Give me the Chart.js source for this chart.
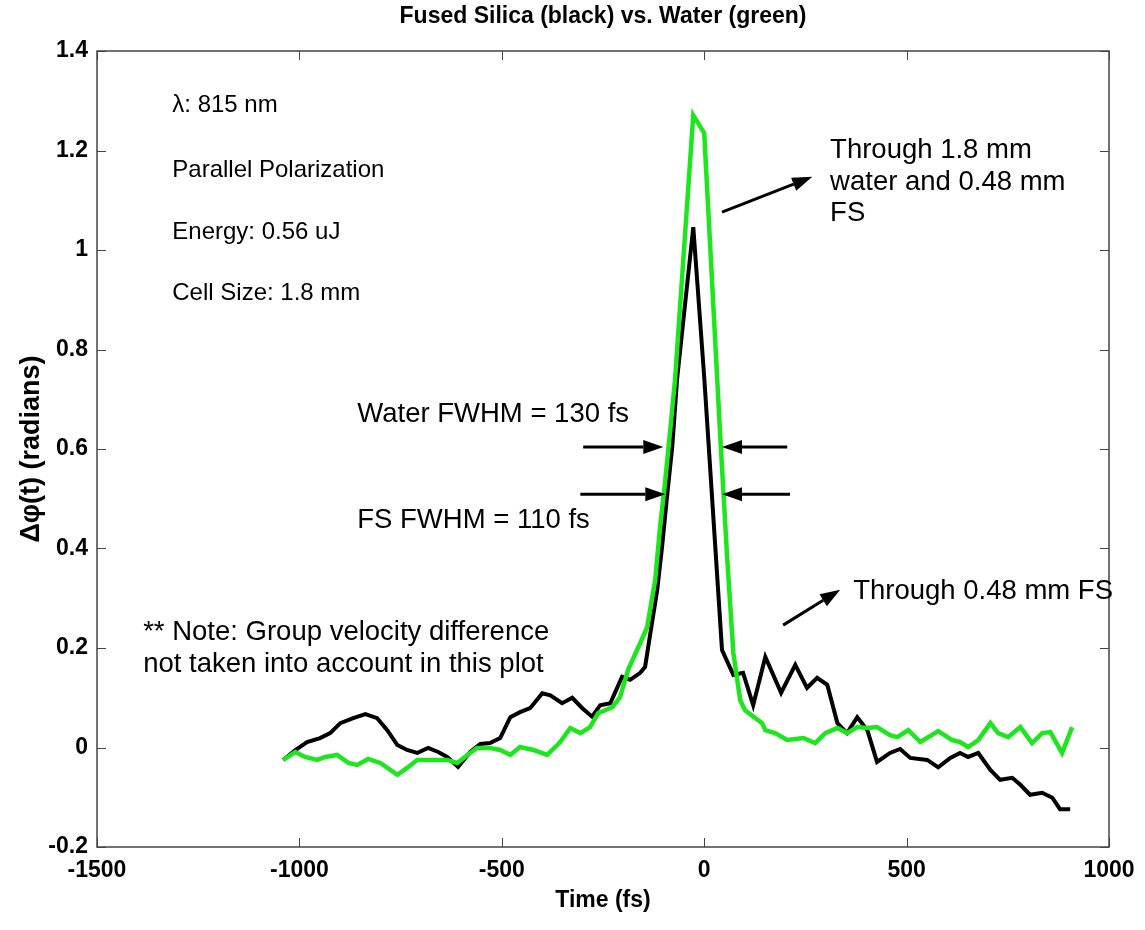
<!DOCTYPE html>
<html><head><meta charset="utf-8">
<script src="https://cdn.jsdelivr.net/npm/chart.js@4.4.0/dist/chart.umd.min.js"></script>
<style>html,body{margin:0;padding:0;background:#fff;}#wrap{width:1145px;height:930px;}</style>
</head><body><div id="wrap"><canvas id="c" width="1145" height="930"></canvas></div>
<script>
// Fused silica (black) curve
const fsTime = [-1040,-1010,-981,-949,-924,-899,-867,-837,-808,-783,-758,-734,-709,-682,-657,-635,-608,-578,-553,-529,-504,-479,-455,-430,-400,-380,-351,-326,-301,-277,-257,-232,-203,-183,-158,-146,-133,-116,-104,-91,-79,-67,-27,0,44,72,96,121,151,190,225,254,279,304,329,353,378,403,427,459,484,509,551,578,608,632,652,677,707,731,761,781,805,835,860,879,904];
const fsPhase = [-0.025,-0.005,0.011,0.019,0.029,0.049,0.059,0.067,0.059,0.035,0.005,-0.005,-0.011,-0.001,-0.009,-0.019,-0.039,-0.009,0.007,0.009,0.019,0.061,0.071,0.079,0.109,0.105,0.089,0.100,0.079,0.062,0.085,0.089,0.142,0.136,0.150,0.162,0.230,0.317,0.404,0.511,0.604,0.740,1.046,0.745,0.196,0.146,0.150,0.085,0.182,0.110,0.166,0.120,0.140,0.126,0.049,0.029,0.061,0.035,-0.029,-0.011,-0.003,-0.021,-0.025,-0.040,-0.021,-0.011,-0.019,-0.011,-0.045,-0.065,-0.061,-0.075,-0.095,-0.091,-0.101,-0.124,-0.124];
// Water (green) curve
const waterTime = [-1040,-1010,-986,-956,-936,-907,-879,-857,-830,-800,-758,-734,-709,-669,-635,-610,-585,-561,-529,-504,-479,-455,-422,-388,-363,-356,-331,-306,-282,-262,-227,-208,-188,-158,-141,-121,-109,-96,-84,-72,-27,0,40,57,72,89,101,143,151,175,205,245,274,299,329,353,378,403,427,459,477,504,534,578,613,632,652,677,707,726,751,781,810,835,855,884,909];
const waterPhase = [-0.025,-0.009,-0.019,-0.025,-0.019,-0.015,-0.031,-0.035,-0.023,-0.031,-0.055,-0.041,-0.025,-0.025,-0.025,-0.031,-0.015,-0.001,-0.001,-0.005,-0.015,0.001,-0.005,-0.015,0.005,0.011,0.039,0.029,0.041,0.069,0.081,0.101,0.156,0.210,0.242,0.337,0.444,0.538,0.638,0.740,1.271,1.235,0.620,0.377,0.190,0.095,0.075,0.049,0.035,0.029,0.015,0.019,0.009,0.029,0.039,0.029,0.041,0.039,0.041,0.025,0.021,0.035,0.011,0.033,0.015,0.011,0.001,0.015,0.049,0.029,0.021,0.041,0.009,0.029,0.031,-0.011,0.041];

const xTicks = [-1500,-1000,-500,0,500,1000];
const xTickLabels = ['-1500','-1000','-500','0','500','1000'];
const yTicks = [-0.2,0,0.2,0.4,0.6,0.8,1,1.2,1.4];
const yTickLabels = ['-0.2','0','0.2','0.4','0.6','0.8','1','1.2','1.4'];

const titleText = 'Fused Silica (black) vs. Water (green)';
const xTitleText = 'Time (fs)';
const yTitleText = 'Δφ(t) (radians)';

// annotations in data coordinates (big = larger font class)
const notes = [
  {text:'λ: 815 nm', t:-1314, v:1.291, big:false},
  {text:'Parallel Polarization', t:-1314, v:1.161, big:false},
  {text:'Energy: 0.56 uJ', t:-1314, v:1.036, big:false},
  {text:'Cell Size: 1.8 mm', t:-1314, v:0.912, big:false},
  {text:'Through 1.8 mm', t:311, v:1.201, big:true},
  {text:'water and 0.48 mm', t:311, v:1.135, big:true},
  {text:'FS', t:311, v:1.073, big:true},
  {text:'Water FWHM = 130 fs', t:-857, v:0.670, big:true},
  {text:'FS FWHM = 110 fs', t:-857, v:0.457, big:true},
  {text:'Through 0.48 mm FS', t:368, v:0.313, big:true},
  {text:'** Note: Group velocity difference', t:-1386, v:0.232, big:true},
  {text:'not taken into account in this plot', t:-1386, v:0.166, big:true}
];
const arrows = [
  {from:[44,1.076], to:[267,1.147]},
  {from:[-299,0.604], to:[-101,0.604]},
  {from:[205,0.604], to:[44,0.604]},
  {from:[-306,0.509], to:[-96,0.509]},
  {from:[212,0.509], to:[44,0.509]},
  {from:[195,0.246], to:[336,0.317]}
];

const FAM = '"Liberation Sans", Arial, sans-serif';

const decor = {
  id:'decor',
  afterDraw(chart){
    const {ctx, chartArea:a, scales:{x, y}} = chart;
    ctx.save();
    ctx.strokeStyle = '#444'; ctx.lineWidth = 1.5;
    ctx.strokeRect(a.left, a.top, a.right - a.left, a.bottom - a.top);
    ctx.lineWidth = 1;
    const tl = 9;
    xTicks.forEach(v => {
      const px = Math.round(x.getPixelForValue(v)) + 0.5;
      ctx.beginPath(); ctx.moveTo(px, a.bottom); ctx.lineTo(px, a.bottom - tl);
      ctx.moveTo(px, a.top); ctx.lineTo(px, a.top + tl); ctx.stroke();
    });
    yTicks.forEach(v => {
      const py = Math.round(y.getPixelForValue(v)) + 0.5;
      ctx.beginPath(); ctx.moveTo(a.left, py); ctx.lineTo(a.left + tl, py);
      ctx.moveTo(a.right, py); ctx.lineTo(a.right - tl, py); ctx.stroke();
    });
    ctx.fillStyle = '#000';
    ctx.font = 'bold 23px ' + FAM;
    ctx.textAlign = 'center'; ctx.textBaseline = 'middle';
    ctx.fillText(titleText, (a.left + a.right) / 2, 17);
    ctx.textAlign = 'left';
    notes.forEach(n => {
      ctx.font = (n.big ? '27.5px ' : '24px ') + FAM;
      ctx.fillText(n.text, x.getPixelForValue(n.t), y.getPixelForValue(n.v));
    });
    ctx.strokeStyle = '#000'; ctx.fillStyle = '#000'; ctx.lineWidth = 3;
    arrows.forEach(ar => {
      const x0 = x.getPixelForValue(ar.from[0]), y0 = y.getPixelForValue(ar.from[1]);
      const x1 = x.getPixelForValue(ar.to[0]), y1 = y.getPixelForValue(ar.to[1]);
      const ang = Math.atan2(y1 - y0, x1 - x0);
      const hl = 20, hw = 7;
      const bx = x1 - hl * Math.cos(ang), by = y1 - hl * Math.sin(ang);
      ctx.beginPath(); ctx.moveTo(x0, y0); ctx.lineTo(bx, by); ctx.stroke();
      ctx.beginPath(); ctx.moveTo(x1, y1);
      ctx.lineTo(bx + hw * Math.sin(ang), by - hw * Math.cos(ang));
      ctx.lineTo(bx - hw * Math.sin(ang), by + hw * Math.cos(ang));
      ctx.closePath(); ctx.fill();
    });
    ctx.restore();
  }
};

new Chart(document.getElementById('c'), {
  type:'line',
  data:{datasets:[
    {label:'Fused Silica', data: fsTime.map((t,i)=>({x:t, y:fsPhase[i]})), borderColor:'#000', borderWidth:4, pointRadius:0, tension:0, order:1},
    {label:'Water', data: waterTime.map((t,i)=>({x:t, y:waterPhase[i]})), borderColor:'rgb(30,230,30)', borderWidth:4.5, pointRadius:0, tension:0, order:0}
  ]},
  options:{
    responsive:false, animation:false,
    layout:{padding:{left:0, right:36, top:51, bottom:0}},
    plugins:{legend:{display:false}, tooltip:{enabled:false}, title:{display:false}},
    scales:{
      x:{type:'linear', min:-1500, max:1000,
        afterBuildTicks: s => { s.ticks = xTicks.map(v => ({value:v})); },
        afterFit: s => { s.height = 83; },
        grid:{display:false, drawTicks:false}, border:{display:false},
        ticks:{padding:10, maxRotation:0, autoSkip:false, color:'#000', font:{family:FAM, weight:'bold', size:23},
          callback: v => xTickLabels[xTicks.indexOf(v)]},
        title:{display:true, text:xTitleText, color:'#000', font:{family:FAM, weight:'bold', size:23}, padding:{top:0, bottom:16}}
      },
      y:{type:'linear', min:-0.2, max:1.4,
        afterBuildTicks: s => { s.ticks = yTicks.map(v => ({value:v})); },
        afterFit: s => { s.width = 97; },
        grid:{display:false, drawTicks:false}, border:{display:false},
        ticks:{padding:9, autoSkip:false, color:'#000', font:{family:FAM, weight:'bold', size:23},
          callback: v => yTickLabels[yTicks.findIndex(t => Math.abs(t - v) < 1e-9)]},
        title:{display:true, text:yTitleText, color:'#000', font:{family:FAM, weight:'bold', size:27}, padding:{top:15, bottom:0}}
      }
    }
  },
  plugins:[decor]
});
</script></body></html>
